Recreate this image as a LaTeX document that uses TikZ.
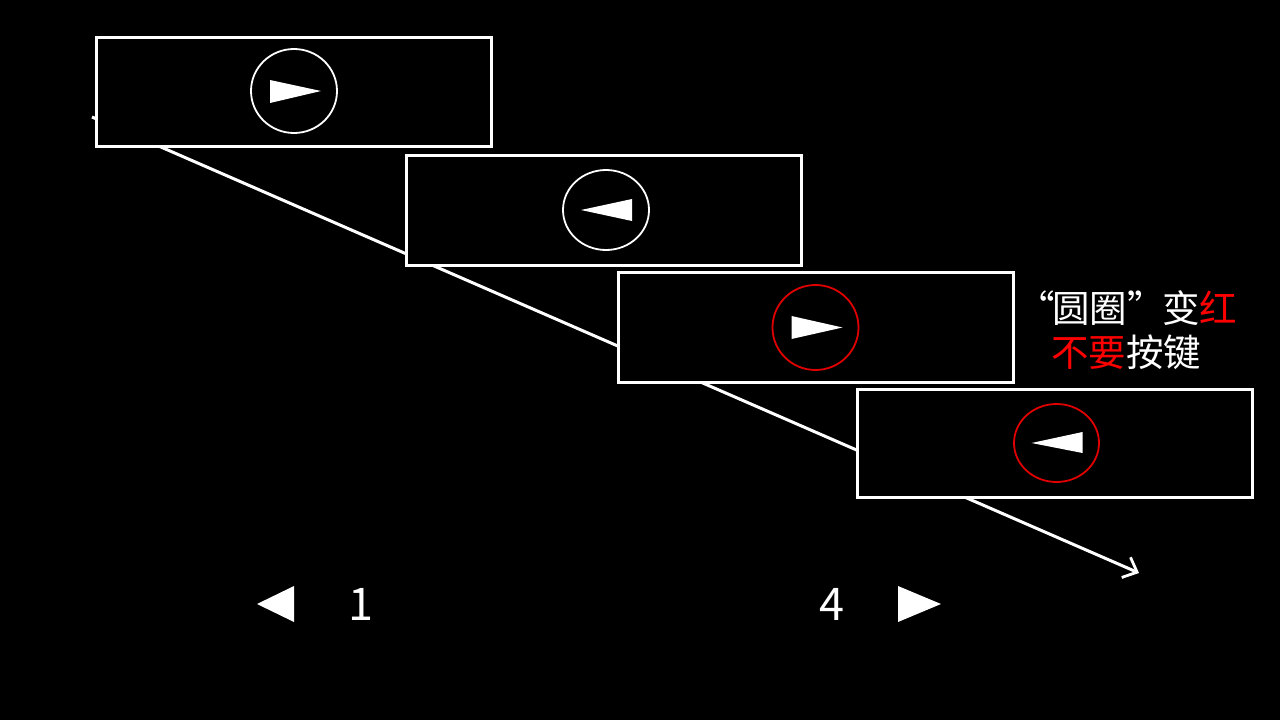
\documentclass[tikz,border=0pt]{standalone}
\usepackage{fontspec}
\setmainfont{Noto Sans CJK SC}
\newfontfamily\cjk{Noto Sans CJK SC}
\usetikzlibrary{arrows.meta,shapes.geometric}
\definecolor{circred}{RGB}{225,0,0}
\tikzset{
  trialbox/.style={draw=white, fill=black, line width=3pt, minimum width=395pt, minimum height=109pt, inner sep=0pt, outer sep=0pt},
  ring/.style={draw=white, ellipse, line width=1.8pt, minimum width=86pt, minimum height=84pt, inner sep=0pt},
  redring/.style={ring, draw=circred},
  numlabel/.style={text=white, font=\cjk\fontsize{45pt}{50pt}\selectfont, inner sep=0pt, anchor=base},
  cnlabel/.style={text=white, font=\cjk\fontsize{37.5pt}{42pt}\selectfont, inner sep=0pt, anchor=base west}
}
\begin{document}
\begin{tikzpicture}[x=1pt,y=-1pt]
\fill[black] (0,0) rectangle (1280,720);
\useasboundingbox (0,0) rectangle (1280,720);
% timeline arrow
\coordinate (start) at (92,117);
\coordinate (end) at (1139,573);
\draw[white, line width=3pt, -{Straight Barb[length=12pt,width=22pt,line width=2.8pt]}] (start) -- (end);
% boxes
\node[trialbox] (b1) at (293.5,91.5) {};
\node[trialbox, minimum height=110pt] (b2) at (603.5,210) {};
\node[trialbox, minimum height=110pt] (b3) at (815.5,327) {};
\node[trialbox, minimum height=108pt] (b4) at (1054.5,443) {};
% circles
\node[ring] (c1) at (294,91) {};
\node[ring, minimum height=80pt] (c2) at (606,210) {};
\node[redring, minimum height=85pt] (c3) at (815.5,327.5) {};
\node[redring, minimum width=85pt, minimum height=78pt] (c4) at (1056.5,443) {};
% pointers
\fill[white] ([shift={(-24,-11)}]c1.center) -- ([shift={(-24,12)}]c1.center) -- ([shift={(27,0)}]c1.center) -- cycle;
\fill[white] ([shift={(26,-11)}]c2.center) -- ([shift={(26,11)}]c2.center) -- ([shift={(-25,0)}]c2.center) -- cycle;
\fill[white] ([shift={(-24,-11.5)}]c3.center) -- ([shift={(-24,11.5)}]c3.center) -- ([shift={(27,0)}]c3.center) -- cycle;
\fill[white] ([shift={(26,-11)}]c4.center) -- ([shift={(26,10)}]c4.center) -- ([shift={(-25,0)}]c4.center) -- cycle;
% navigation
\fill[white] (294,586) -- (294,622) -- (257,604) -- cycle;
\fill[white] (898,586) -- (898,622) -- (941,604) -- cycle;
\node[numlabel] (n1) at (361,620) {1};
\node[numlabel] (n4) at (832,620) {4};
% instruction text
\node[cnlabel] (t1) at (1052,322) {\llap{\makebox[37.5pt][r]{“}\hspace{-3pt}}圆圈\makebox[35pt][l]{”}变{\color{red}红}};
\node[cnlabel] (t2) at (1051,366) {{\color{red}不要}按键};
\end{tikzpicture}
\end{document}
